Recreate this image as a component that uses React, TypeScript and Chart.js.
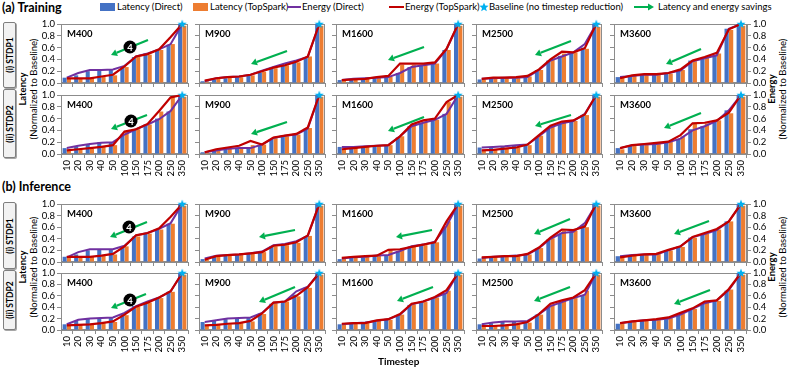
import React, { useEffect, useRef } from 'react';
import { Chart, registerables } from 'chart.js';

Chart.register(...registerables);

const FONT = "Lato, 'Liberation Sans', sans-serif";

// ---------------- DATA ----------------
const timesteps = ['10', '20', '30', '40', '50', '100', '150', '175', '200', '250', '350'];
const modelNames = ['M400', 'M900', 'M1600', 'M2500', 'M3600'];
const yTicks = [0, 0.2, 0.4, 0.6, 0.8, 1.0];
const baselineValue = 1.0;

// (a) Training, (i) STDP1 — one list per network (M400..M3600)
const trainStdp1LatencyDirect = [
  [0.09, 0.13, 0.2, 0.22, 0.22, 0.27, 0.44, 0.5, 0.56, 0.65, 1.0],
  [0.03, 0.06, 0.08, 0.1, 0.13, 0.18, 0.24, 0.3, 0.34, 0.44, 1.0],
  [0.05, 0.06, 0.07, 0.08, 0.1, 0.17, 0.27, 0.3, 0.33, 0.56, 1.0],
  [0.06, 0.08, 0.08, 0.08, 0.1, 0.22, 0.38, 0.46, 0.52, 0.6, 1.0],
  [0.1, 0.13, 0.14, 0.15, 0.17, 0.22, 0.38, 0.42, 0.47, 0.92, 1.0],
];
const trainStdp1LatencyTopSpark = [
  [0.08, 0.08, 0.09, 0.11, 0.13, 0.27, 0.44, 0.48, 0.56, 0.66, 0.97],
  [0.03, 0.07, 0.09, 0.1, 0.13, 0.19, 0.25, 0.3, 0.35, 0.45, 0.97],
  [0.05, 0.06, 0.07, 0.09, 0.11, 0.31, 0.31, 0.31, 0.33, 0.56, 0.97],
  [0.06, 0.08, 0.09, 0.09, 0.11, 0.22, 0.39, 0.5, 0.52, 0.58, 0.95],
  [0.09, 0.13, 0.14, 0.15, 0.16, 0.22, 0.37, 0.43, 0.5, 0.9, 0.97],
];
const trainStdp1EnergyDirect = [
  [0.09, 0.17, 0.22, 0.22, 0.23, 0.29, 0.45, 0.5, 0.57, 0.66, 1.0],
  [0.03, 0.08, 0.1, 0.11, 0.14, 0.21, 0.27, 0.33, 0.38, 0.44, 1.0],
  [0.05, 0.07, 0.08, 0.09, 0.1, 0.17, 0.27, 0.3, 0.33, 0.57, 1.0],
  [0.07, 0.08, 0.09, 0.09, 0.1, 0.22, 0.38, 0.45, 0.52, 0.66, 1.0],
  [0.1, 0.12, 0.14, 0.14, 0.17, 0.21, 0.37, 0.42, 0.47, 0.92, 1.0],
];
const trainStdp1EnergyTopSpark = [
  [0.08, 0.08, 0.08, 0.11, 0.14, 0.28, 0.45, 0.49, 0.57, 0.78, 1.0],
  [0.04, 0.08, 0.1, 0.11, 0.14, 0.2, 0.26, 0.3, 0.36, 0.45, 1.0],
  [0.05, 0.06, 0.07, 0.1, 0.12, 0.33, 0.33, 0.33, 0.35, 0.58, 1.0],
  [0.07, 0.09, 0.09, 0.1, 0.12, 0.23, 0.4, 0.53, 0.52, 0.59, 1.0],
  [0.08, 0.13, 0.15, 0.15, 0.17, 0.23, 0.38, 0.44, 0.51, 0.91, 1.0],
];

// (a) Training, (ii) STDP2
const trainStdp2LatencyDirect = [
  [0.1, 0.12, 0.17, 0.2, 0.2, 0.33, 0.42, 0.5, 0.6, 0.72, 1.0],
  [0.03, 0.06, 0.08, 0.1, 0.1, 0.14, 0.25, 0.3, 0.33, 0.43, 1.0],
  [0.12, 0.12, 0.12, 0.14, 0.15, 0.28, 0.47, 0.52, 0.57, 0.68, 1.0],
  [0.11, 0.12, 0.13, 0.14, 0.15, 0.28, 0.44, 0.51, 0.55, 0.66, 1.0],
  [0.1, 0.14, 0.16, 0.17, 0.19, 0.25, 0.42, 0.47, 0.55, 0.74, 1.0],
];
const trainStdp2LatencyTopSpark = [
  [0.07, 0.08, 0.09, 0.12, 0.15, 0.38, 0.42, 0.5, 0.72, 0.97, 0.97],
  [0.03, 0.07, 0.1, 0.12, 0.15, 0.16, 0.27, 0.3, 0.33, 0.44, 0.97],
  [0.08, 0.1, 0.12, 0.14, 0.15, 0.3, 0.5, 0.55, 0.58, 0.88, 0.97],
  [0.06, 0.07, 0.09, 0.11, 0.15, 0.31, 0.47, 0.54, 0.56, 0.66, 0.97],
  [0.08, 0.15, 0.16, 0.18, 0.21, 0.3, 0.52, 0.52, 0.57, 0.69, 0.97],
];
const trainStdp2EnergyDirect = [
  [0.1, 0.14, 0.17, 0.19, 0.2, 0.33, 0.42, 0.5, 0.59, 0.73, 1.0],
  [0.03, 0.06, 0.09, 0.1, 0.1, 0.16, 0.27, 0.31, 0.33, 0.43, 1.0],
  [0.12, 0.12, 0.13, 0.14, 0.15, 0.3, 0.47, 0.53, 0.58, 0.68, 1.0],
  [0.11, 0.12, 0.13, 0.15, 0.16, 0.3, 0.45, 0.52, 0.56, 0.68, 1.0],
  [0.1, 0.15, 0.16, 0.17, 0.2, 0.26, 0.4, 0.47, 0.56, 0.74, 1.0],
];
const trainStdp2EnergyTopSpark = [
  [0.06, 0.08, 0.1, 0.12, 0.15, 0.38, 0.42, 0.51, 0.73, 0.96, 1.0],
  [0.03, 0.08, 0.11, 0.14, 0.22, 0.16, 0.28, 0.31, 0.34, 0.45, 1.0],
  [0.08, 0.1, 0.12, 0.14, 0.15, 0.3, 0.5, 0.57, 0.6, 0.88, 1.0],
  [0.06, 0.07, 0.09, 0.11, 0.16, 0.32, 0.48, 0.55, 0.57, 0.67, 1.0],
  [0.1, 0.15, 0.17, 0.19, 0.21, 0.32, 0.52, 0.53, 0.57, 0.7, 1.0],
];

// (b) Inference, (i) STDP1
const inferStdp1LatencyDirect = [
  [0.09, 0.13, 0.2, 0.22, 0.22, 0.27, 0.44, 0.5, 0.56, 0.66, 1.0],
  [0.05, 0.09, 0.11, 0.12, 0.14, 0.17, 0.27, 0.3, 0.35, 0.44, 1.0],
  [0.05, 0.07, 0.08, 0.1, 0.11, 0.19, 0.26, 0.3, 0.33, 0.6, 1.0],
  [0.06, 0.08, 0.09, 0.1, 0.12, 0.23, 0.39, 0.48, 0.52, 0.64, 1.0],
  [0.1, 0.11, 0.12, 0.13, 0.19, 0.26, 0.42, 0.48, 0.54, 0.7, 1.0],
];
const inferStdp1LatencyTopSpark = [
  [0.08, 0.09, 0.09, 0.11, 0.13, 0.27, 0.44, 0.49, 0.56, 0.66, 0.97],
  [0.04, 0.09, 0.11, 0.12, 0.14, 0.17, 0.27, 0.29, 0.33, 0.45, 0.97],
  [0.07, 0.08, 0.09, 0.11, 0.2, 0.21, 0.26, 0.29, 0.34, 0.7, 0.97],
  [0.07, 0.08, 0.09, 0.1, 0.13, 0.24, 0.41, 0.54, 0.54, 0.6, 0.97],
  [0.08, 0.11, 0.13, 0.14, 0.2, 0.26, 0.42, 0.49, 0.56, 0.7, 0.97],
];
const inferStdp1EnergyDirect = [
  [0.08, 0.17, 0.22, 0.22, 0.22, 0.28, 0.46, 0.5, 0.57, 0.67, 1.0],
  [0.06, 0.11, 0.12, 0.13, 0.15, 0.18, 0.29, 0.31, 0.36, 0.45, 1.0],
  [0.06, 0.08, 0.09, 0.11, 0.12, 0.19, 0.27, 0.3, 0.35, 0.62, 1.0],
  [0.07, 0.09, 0.1, 0.11, 0.13, 0.24, 0.4, 0.5, 0.52, 0.67, 1.0],
  [0.1, 0.12, 0.13, 0.13, 0.2, 0.27, 0.43, 0.48, 0.55, 0.7, 1.0],
];
const inferStdp1EnergyTopSpark = [
  [0.09, 0.09, 0.09, 0.11, 0.14, 0.27, 0.46, 0.5, 0.58, 0.78, 1.0],
  [0.04, 0.1, 0.12, 0.13, 0.15, 0.17, 0.28, 0.3, 0.34, 0.46, 1.0],
  [0.07, 0.09, 0.1, 0.11, 0.21, 0.22, 0.26, 0.3, 0.34, 0.7, 1.0],
  [0.08, 0.09, 0.1, 0.1, 0.14, 0.25, 0.42, 0.56, 0.55, 0.61, 1.0],
  [0.08, 0.11, 0.13, 0.14, 0.21, 0.27, 0.43, 0.5, 0.57, 0.7, 1.0],
];

// (b) Inference, (ii) STDP2
const inferStdp2LatencyDirect = [
  [0.1, 0.16, 0.2, 0.21, 0.21, 0.28, 0.42, 0.49, 0.56, 0.67, 1.0],
  [0.14, 0.16, 0.19, 0.2, 0.21, 0.29, 0.46, 0.49, 0.62, 0.75, 1.0],
  [0.1, 0.12, 0.13, 0.15, 0.18, 0.26, 0.44, 0.49, 0.56, 0.64, 1.0],
  [0.1, 0.12, 0.14, 0.14, 0.15, 0.27, 0.41, 0.48, 0.55, 0.61, 1.0],
  [0.11, 0.14, 0.16, 0.18, 0.19, 0.26, 0.37, 0.46, 0.51, 0.69, 1.0],
];
const inferStdp2LatencyTopSpark = [
  [0.08, 0.09, 0.1, 0.12, 0.14, 0.26, 0.41, 0.48, 0.56, 0.67, 0.97],
  [0.08, 0.09, 0.1, 0.12, 0.15, 0.28, 0.47, 0.5, 0.59, 0.74, 0.97],
  [0.1, 0.11, 0.12, 0.16, 0.18, 0.27, 0.45, 0.49, 0.57, 0.69, 0.97],
  [0.07, 0.07, 0.08, 0.1, 0.13, 0.27, 0.45, 0.51, 0.56, 0.69, 0.97],
  [0.11, 0.14, 0.16, 0.18, 0.21, 0.29, 0.37, 0.49, 0.51, 0.71, 0.97],
];
const inferStdp2EnergyDirect = [
  [0.1, 0.18, 0.2, 0.21, 0.22, 0.3, 0.42, 0.5, 0.57, 0.68, 1.0],
  [0.14, 0.17, 0.2, 0.21, 0.22, 0.3, 0.48, 0.5, 0.68, 0.76, 1.0],
  [0.1, 0.12, 0.13, 0.16, 0.19, 0.27, 0.45, 0.5, 0.57, 0.65, 1.0],
  [0.1, 0.13, 0.15, 0.15, 0.16, 0.28, 0.42, 0.49, 0.56, 0.62, 1.0],
  [0.12, 0.15, 0.17, 0.18, 0.2, 0.27, 0.37, 0.47, 0.52, 0.7, 1.0],
];
const inferStdp2EnergyTopSpark = [
  [0.08, 0.09, 0.1, 0.12, 0.15, 0.27, 0.41, 0.48, 0.57, 0.68, 1.0],
  [0.08, 0.09, 0.11, 0.12, 0.16, 0.29, 0.48, 0.5, 0.6, 0.75, 1.0],
  [0.11, 0.12, 0.12, 0.17, 0.19, 0.28, 0.46, 0.5, 0.58, 0.7, 1.0],
  [0.07, 0.07, 0.08, 0.1, 0.14, 0.28, 0.46, 0.52, 0.57, 0.7, 1.0],
  [0.12, 0.15, 0.17, 0.19, 0.22, 0.3, 0.38, 0.5, 0.52, 0.72, 1.0],
];

// ---------------- LAYOUT (positions, not data) ----------------
const ROW_TOPS = [24, 95, 204, 273];
const ROW_H = [59, 59, 58, 57];
const COL_LEFTS = [61, 198, 335, 475, 613];
const COL_W = [130, 130, 132, 130, 134];

// arrow [tailX, tailY, headX, headY] relative to plot area; circle [x, y]
const ARROWS = [
  [[87, 16, 50, 31], [88, 27, 52, 40], [88, 23, 52, 36], [95, 17, 59, 31], [87, 25, 52, 40]],
  [[86, 20, 50, 34], [88, 27, 52, 39], [88, 22, 52, 36], [95, 20, 59, 31], [87, 18, 50, 33]],
  [[86, 18, 49, 33], [96, 26, 60, 33], [96, 26, 60, 33], [94, 15, 58, 30], [95, 17, 60, 30]],
  [[85, 21, 50, 35], [96, 14, 60, 29], [97, 14, 61, 28], [94, 14, 58, 28], [96, 17, 60, 31]],
];
const CIRCLES = [[69, 23], [70, 26], [68, 23], [69, 27]];

const SERIES = [
  [trainStdp1LatencyDirect, trainStdp1LatencyTopSpark, trainStdp1EnergyDirect, trainStdp1EnergyTopSpark],
  [trainStdp2LatencyDirect, trainStdp2LatencyTopSpark, trainStdp2EnergyDirect, trainStdp2EnergyTopSpark],
  [inferStdp1LatencyDirect, inferStdp1LatencyTopSpark, inferStdp1EnergyDirect, inferStdp1EnergyTopSpark],
  [inferStdp2LatencyDirect, inferStdp2LatencyTopSpark, inferStdp2EnergyDirect, inferStdp2EnergyTopSpark],
];

const BLUE = '#4472C4';
const ORANGE = '#ED7D31';
const PURPLE = '#7030A0';
const RED = '#C00000';
const STAR = '#00B0F0';
const GREEN = '#00B050';
const AXIS = '#8c8c8c';

function starPoints(cx: number, cy: number, ro: number, ri: number): [number, number][] {
  const pts: [number, number][] = [];
  for (let i = 0; i < 10; i++) {
    const r = i % 2 === 0 ? ro : ri;
    const a = -Math.PI / 2 + (i * Math.PI) / 5;
    pts.push([cx + r * Math.cos(a), cy + r * Math.sin(a)]);
  }
  return pts;
}

let starImgCache: HTMLCanvasElement | null = null;
function starImage() {
  if (starImgCache) return starImgCache;
  const c = document.createElement('canvas');
  c.width = 10;
  c.height = 10;
  const ctx = c.getContext('2d')!;
  const pts = starPoints(5, 5.3, 4.7, 2.0);
  ctx.beginPath();
  pts.forEach(([x, y], i) => (i ? ctx.lineTo(x, y) : ctx.moveTo(x, y)));
  ctx.closePath();
  ctx.fillStyle = STAR;
  ctx.fill();
  starImgCache = c;
  return c;
}

const annotPlugin = {
  id: 'annot',
  beforeDatasetsDraw(chart: any) {
    const { ctx, chartArea: a } = chart;
    ctx.save();
    ctx.strokeStyle = AXIS;
    ctx.lineWidth = 1;
    ctx.strokeRect(Math.round(a.left) + 0.5, Math.round(a.top) + 0.5, Math.round(a.right - a.left) - 1, Math.round(a.bottom - a.top) - 1);
    ctx.restore();
  },
  afterDatasetsDraw(chart: any, _args: any, opts: any) {
    const { ctx, chartArea: a } = chart;
    ctx.save();
    ctx.font = `bold 9.5px ${FONT}`;
    ctx.fillStyle = '#000';
    ctx.textBaseline = 'middle';
    ctx.textAlign = 'left';
    ctx.fillText(opts.label, a.left + 6, a.top + 10);
    const [tx, ty, hx, hy] = opts.arrow;
    const x0 = a.left + tx, y0 = a.top + ty, x1 = a.left + hx, y1 = a.top + hy;
    const ang = Math.atan2(y1 - y0, x1 - x0);
    const hl = 6, hw = 3.6;
    const bx = x1 - hl * Math.cos(ang), by = y1 - hl * Math.sin(ang);
    ctx.strokeStyle = GREEN;
    ctx.lineWidth = 2.2;
    ctx.beginPath();
    ctx.moveTo(x0, y0);
    ctx.lineTo(bx, by);
    ctx.stroke();
    ctx.fillStyle = GREEN;
    ctx.beginPath();
    ctx.moveTo(x1, y1);
    ctx.lineTo(bx + hw * Math.sin(ang), by - hw * Math.cos(ang));
    ctx.lineTo(bx - hw * Math.sin(ang), by + hw * Math.cos(ang));
    ctx.closePath();
    ctx.fill();
    if (opts.circle) {
      const [cx, cy] = opts.circle;
      ctx.beginPath();
      ctx.arc(a.left + cx, a.top + cy, 6.5, 0, Math.PI * 2);
      ctx.fillStyle = '#000';
      ctx.fill();
      ctx.fillStyle = '#fff';
      ctx.font = `bold 9.5px ${FONT}`;
      ctx.textAlign = 'center';
      ctx.fillText('4', a.left + cx, a.top + cy + 0.5);
    }
    ctx.restore();
  },
};

function Panel({ r, c }: { r: number; c: number }) {
  const ref = useRef<HTMLCanvasElement>(null);
  const showX = r === 1 || r === 3;
  const yW = c === 0 ? 24 : 5;
  const y2W = c === 4 ? 24 : 0;
  const padT = 7;
  const padR = c === 4 ? 0 : 3;
  const xH = showX ? 28 : 7;
  const w = yW + COL_W[c] + y2W + padR;
  const h = padT + ROW_H[r] + xH;
  const left = COL_LEFTS[c] - yW;
  const top = ROW_TOPS[r] - padT;

  useEffect(() => {
    const [ld, lt, ed, et] = SERIES[r];
    const tickFont = { family: FONT, size: 9.5 };
    const yCommon = (show: boolean, width: number, pos: 'left' | 'right') => ({
      position: pos,
      min: 0,
      max: 1,
      afterBuildTicks: (s: any) => {
        s.ticks = yTicks.map((v) => ({ value: v }));
      },
      ticks: {
        display: show,
        autoSkip: false,
        font: tickFont,
        color: '#000',
        padding: 2,
        callback: (v: any) => Number(v).toFixed(1),
      },
      grid: { drawOnChartArea: false, drawTicks: true, tickLength: 4, color: AXIS },
      border: { color: AXIS },
      afterFit: (s: any) => {
        s.width = width;
        s.paddingTop = 0;
        s.paddingBottom = 0;
      },
    });
    const scales: any = {
      x: {
        type: 'category',
        offset: true,
        grid: { offset: true, drawOnChartArea: false, drawTicks: true, tickLength: 4, color: AXIS },
        border: { color: AXIS },
        ticks: {
          display: showX,
          autoSkip: false,
          maxRotation: 90,
          minRotation: 90,
          font: tickFont,
          color: '#000',
          padding: 2,
        },
        afterFit: (s: any) => {
          s.height = xH;
          s.paddingLeft = 0;
          s.paddingRight = 0;
        },
      },
      y: yCommon(c === 0, yW, 'left'),
    };
    if (c === 4) scales.y2 = yCommon(true, y2W, 'right');

    const chart = new Chart(ref.current!, {
      type: 'bar',
      data: {
        labels: timesteps,
        datasets: [
          {
            type: 'line',
            label: 'Baseline (no timestep reduction)',
            data: timesteps.map((_, i) => (i === timesteps.length - 1 ? baselineValue : null)),
            showLine: false,
            pointStyle: starImage() as any,
            pointRadius: 5,
            clip: false as any,
            order: 0,
          },
          {
            type: 'line',
            label: 'Energy (TopSpark)',
            data: et[c],
            borderColor: RED,
            backgroundColor: RED,
            borderWidth: 2.2,
            pointRadius: 0,
            tension: 0,
            clip: 2 as any,
            order: 1,
          },
          {
            type: 'line',
            label: 'Energy (Direct)',
            data: ed[c],
            borderColor: PURPLE,
            backgroundColor: PURPLE,
            borderWidth: 2,
            pointRadius: 0,
            tension: 0,
            clip: 2 as any,
            order: 2,
          },
          {
            type: 'bar',
            label: 'Latency (Direct)',
            data: ld[c],
            backgroundColor: BLUE,
            categoryPercentage: 0.74,
            barPercentage: 0.95,
            order: 3,
          },
          {
            type: 'bar',
            label: 'Latency (TopSpark)',
            data: lt[c],
            backgroundColor: ORANGE,
            categoryPercentage: 0.74,
            barPercentage: 0.95,
            order: 4,
          },
        ] as any,
      },
      options: {
        responsive: false,
        maintainAspectRatio: false,
        devicePixelRatio: 1,
        animation: false,
        layout: { padding: { top: padT, right: padR, left: 0, bottom: 0 } },
        plugins: {
          legend: { display: false },
          tooltip: { enabled: false },
          annot: {
            label: modelNames[c],
            arrow: ARROWS[r][c],
            circle: c === 0 ? CIRCLES[r] : null,
          },
        } as any,
        scales,
      },
      plugins: [annotPlugin],
    });
    return () => chart.destroy();
  }, []);

  return (
    <canvas
      ref={ref}
      width={w}
      height={h}
      style={{ position: 'absolute', left, top, width: w, height: h }}
    />
  );
}

function Txt({ x, y, children, style }: { x: number; y: number; children: any; style?: any }) {
  return (
    <div
      style={{
        position: 'absolute',
        left: x,
        top: y - 6,
        lineHeight: '12px',
        fontSize: 9.5,
        whiteSpace: 'nowrap',
        ...style,
      }}
    >
      {children}
    </div>
  );
}

function RotTitle({ cx, cy, bold, normal }: { cx: number; cy: number; bold: string; normal: string }) {
  return (
    <div
      style={{
        position: 'absolute',
        left: cx,
        top: cy,
        transform: 'translate(-50%, -50%) rotate(-90deg)',
        textAlign: 'center',
        whiteSpace: 'nowrap',
        fontSize: 9.5,
        lineHeight: '11px',
      }}
    >
      <div style={{ fontWeight: 'bold' }}>{bold}</div>
      <div>{normal}</div>
    </div>
  );
}

const ROW_BOX = [[22, 86], [89, 156], [202, 267], [270, 328]];
const ROW_LABELS = ['(i) STDP1', '(ii) STDP2', '(i) STDP1', '(ii) STDP2'];

export default function App() {
  const starPts = starPoints(5, 5.3, 4.8, 2.1).map((p) => p.join(',')).join(' ');
  return (
    <div
      style={{
        position: 'fixed',
        left: 0,
        top: 0,
        width: 789,
        height: 367,
        background: '#fff',
        fontFamily: FONT,
        color: '#000',
        overflow: 'hidden',
      }}
    >
      <Txt x={2} y={8} style={{ fontSize: 12.5, fontWeight: 'bold', lineHeight: '14px', top: 1 }}>(a) Training</Txt>
      <Txt x={2} y={187} style={{ fontSize: 12.5, fontWeight: 'bold', lineHeight: '14px', top: 180 }}>(b) Inference</Txt>

      {/* legend */}
      <div style={{ position: 'absolute', left: 100, top: 3, width: 15, height: 8, background: BLUE }} />
      <Txt x={117} y={7}>Latency (Direct)</Txt>
      <div style={{ position: 'absolute', left: 193, top: 3, width: 15, height: 8, background: ORANGE }} />
      <Txt x={210} y={7}>Latency (TopSpark)</Txt>
      <div style={{ position: 'absolute', left: 287, top: 6, width: 14, height: 2, background: PURPLE }} />
      <Txt x={302} y={7}>Energy (Direct)</Txt>
      <div style={{ position: 'absolute', left: 389, top: 6, width: 15, height: 2, background: RED }} />
      <Txt x={405} y={7}>Energy (TopSpark)</Txt>
      <svg style={{ position: 'absolute', left: 479, top: 2 }} width={10} height={10}>
        <polygon points={starPts} fill={STAR} />
      </svg>
      <Txt x={489} y={7}>Baseline (no timestep reduction)</Txt>
      <svg style={{ position: 'absolute', left: 634, top: 2 }} width={21} height={10}>
        <line x1={0} y1={5} x2={15} y2={5} stroke={GREEN} strokeWidth={2} />
        <polygon points="20,5 14,1.5 14,8.5" fill={GREEN} />
      </svg>
      <Txt x={658} y={7}>Latency and energy savings</Txt>

      {/* row label boxes */}
      {ROW_BOX.map(([t, b], i) => (
        <div
          key={i}
          style={{
            position: 'absolute',
            left: 3,
            top: t,
            width: 11,
            height: b - t,
            border: '1px solid #7f7f7f',
            background: '#f2f2f2',
            borderRadius: 2,
            boxShadow: '1px 1px 0 #a6a6a6',
          }}
        >
          <div
            style={{
              position: 'absolute',
              left: '50%',
              top: '50%',
              transform: 'translate(-50%, -50%) rotate(-90deg)',
              whiteSpace: 'nowrap',
              fontSize: 8.5,
              fontWeight: 'bold',
              lineHeight: '10px',
            }}
          >
            {ROW_LABELS[i]}
          </div>
        </div>
      ))}

      <RotTitle cx={28} cy={89} bold="Latency" normal="(Normalized to Baseline)" />
      <RotTitle cx={28} cy={267} bold="Latency" normal="(Normalized to Baseline)" />
      <RotTitle cx={777} cy={89} bold="Energy" normal="(Normalized to Baseline)" />
      <RotTitle cx={777} cy={267} bold="Energy" normal="(Normalized to Baseline)" />

      {[0, 1, 2, 3].map((r) =>
        [0, 1, 2, 3, 4].map((c) => <Panel key={`${r}-${c}`} r={r} c={c} />)
      )}

      <Txt x={378} y={361} style={{ fontWeight: 'bold', fontSize: 10 }}>Timestep</Txt>
    </div>
  );
}
